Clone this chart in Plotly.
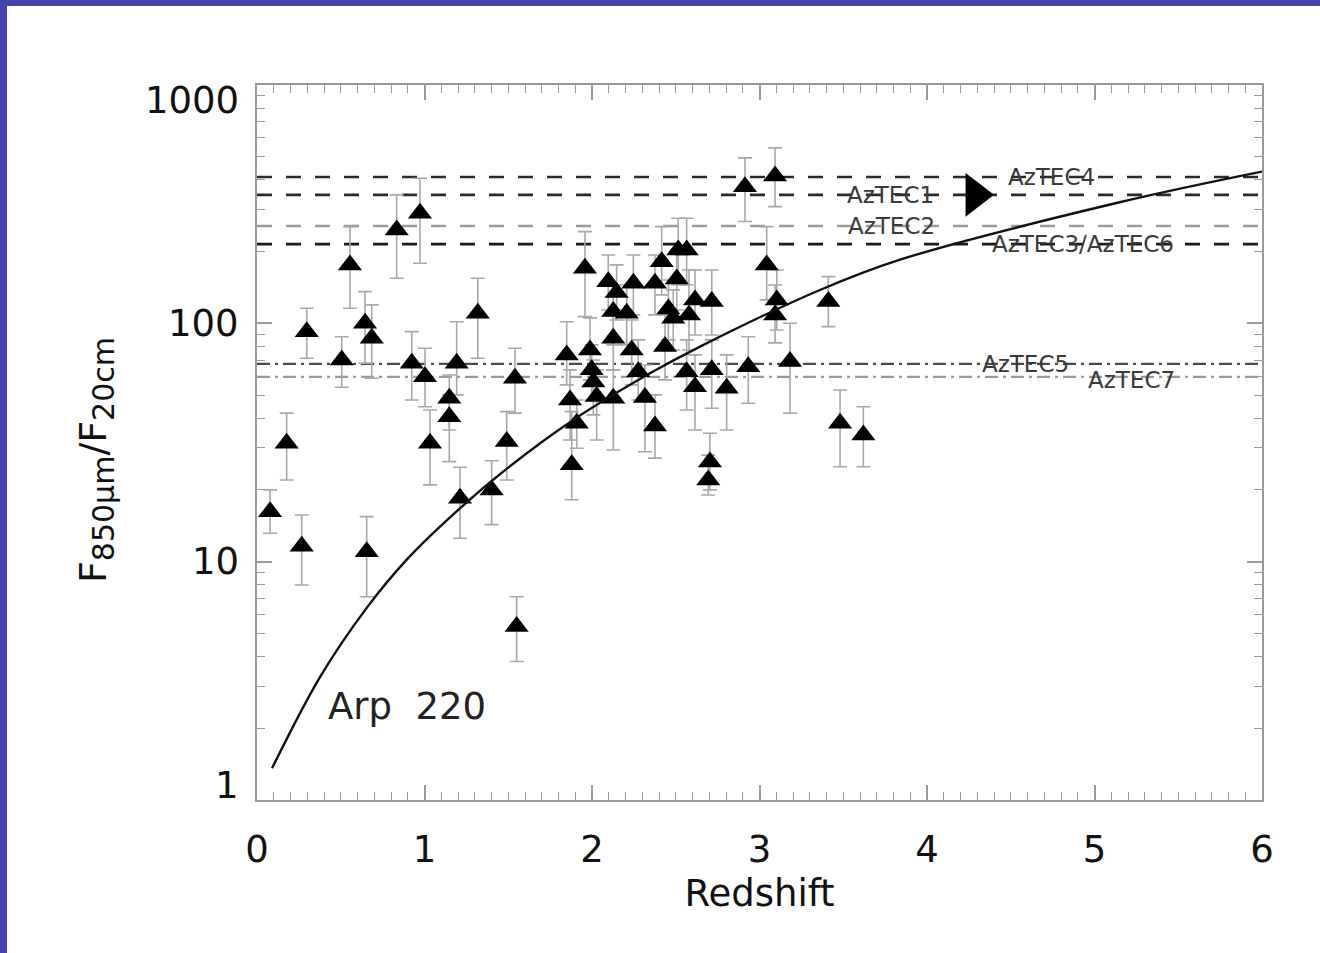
import math
import plotly.graph_objects as go

# ---------------- data ----------------
redshift = [0.078, 0.177, 0.267, 0.297, 0.506, 0.555, 0.645, 0.655, 0.685, 0.834,
            0.924, 0.973, 1.003, 1.033, 1.148, 1.148, 1.192, 1.212, 1.318, 1.401,
            1.491, 1.540, 1.550, 1.849, 1.869, 1.909, 1.879, 1.958, 1.988, 1.998,
            2.008, 2.028, 2.097, 2.147, 2.127, 2.207, 2.247, 2.127, 2.127, 2.237,
            2.276, 2.316, 2.376, 2.376, 2.416, 2.436, 2.456, 2.485, 2.506, 2.515,
            2.565, 2.565, 2.579, 2.615, 2.615, 2.715, 2.715, 2.704, 2.694, 2.804,
            2.913, 2.933, 3.043, 3.093, 3.103, 3.093, 3.182, 3.411, 3.481, 3.620]
ratio = [16.2, 31.4, 11.6, 92.3, 70.2, 175.9, 100.1, 11.0, 86.6, 246.6,
         68.0, 289.7, 59.7, 31.4, 48.5, 40.6, 68.0, 18.45, 110.3, 20.0,
         31.9, 58.8, 5.34, 73.7, 47.7, 38.1, 25.5, 170.3, 77.3, 63.8,
         56.8, 49.3, 149.6, 134.8, 112.0, 110.3, 147.3, 86.6, 48.5, 77.3,
         62.7, 48.9, 147.3, 37.1, 181.5, 79.9, 114.9, 105.1, 153.6, 203.2,
         203.2, 62.7, 108.5, 125.4, 54.2, 123.4, 63.8, 26.2, 22.0, 53.4,
         374.6, 65.8, 175.9, 415.4, 125.4, 108.5, 69.1, 123.4, 38.1, 34.0]
ratio_hi = [20.0, 42.0, 15.7, 115.7, 87.9, 254.6, 135.9, 15.45, 119.5, 345.8,
            92.3, 406.3, 78.6, 43.3, 60.7, 50.1, 101.6, 24.9, 154.6, 26.5,
            42.6, 78.6, 7.13, 101.6, 63.8, 47.7, 42.6, 242.6, 105.4, 81.2,
            70.2, 63.8, 193.6, 175.9, 144.9, 144.9, 193.6, 111.6, 63.8, 103.3,
            85.2, 66.9, 193.6, 50.1, 254.6, 108.5, 152.1, 138.1, 203.2, 276.1,
            276.1, 85.2, 167.5, 167.5, 73.7, 167.5, 85.2, 34.6, 28.0, 73.7,
            494.5, 87.9, 254.6, 544.6, 167.5, 144.9, 100.1, 157.1, 52.5, 44.7]
ratio_lo = [13.16, 22.0, 7.98, 71.4, 53.9, 115.7, 68.0, 7.13, 58.8, 154.6,
            47.7, 178.8, 44.7, 21.0, 35.7, 26.3, 50.1, 12.54, 71.4, 14.3,
            22.0, 42.0, 3.81, 55.2, 32.4, 29.9, 18.2, 106.7, 57.9, 47.7,
            41.3, 32.4, 113.8, 103.3, 81.2, 81.2, 108.5, 63.8, 29.4, 55.2,
            47.7, 28.9, 108.5, 27.2, 131.6, 57.9, 85.2, 77.3, 113.8, 144.9,
            144.9, 43.3, 77.3, 89.4, 35.7, 89.4, 44.0, 20.0, 19.05, 35.7,
            267.3, 46.2, 125.4, 308.9, 93.8, 82.8, 42.0, 96.9, 25.0, 25.0]

# Arp 220 track
arp_z = [0.09, 0.376, 0.655, 0.894, 1.172, 1.49, 1.888, 2.346, 2.645,
         3.361, 3.839, 5.15, 6.0]
arp_ratio = [1.36, 3.28, 6.4, 10.2, 15.8, 24.5, 39.3, 61.7, 79.9,
             138, 185, 322, 433]

# AzTEC sources (horizontal levels)
aztec_names = ["AzTEC4", "AzTEC1", "AzTEC2", "AzTEC3/AzTEC6", "AzTEC5", "AzTEC7"]
aztec_levels = [411, 346, 256, 215, 67.6, 59.6]
aztec_label_z = [4.746, 3.785, 3.79, 4.93, 4.59, 5.22]
aztec_label_y = [411, 346, 256, 215, 67.6, 58.0]
aztec1_zmin = 4.287

x_ticks = [0, 1, 2, 3, 4, 5, 6]
y_ticks = [1, 10, 100, 1000]
y_ticktext = ["1", "10", "100", "1000"]

# ---------------- styles ----------------
line_styles = [
    dict(color="#2a2a2a", dash="15px,14px", width=2.6),
    dict(color="#2a2a2a", dash="15px,14px", width=2.6),
    dict(color="#9a9a9a", dash="15px,14px", width=2.6),
    dict(color="#1a1a1a", dash="15px,14px", width=2.6),
    dict(color="#4a4a4a", dash="13px,5px,3px,5px", width=2.4),
    dict(color="#9a9a9a", dash="13px,5px,3px,5px", width=2.4),
]

FONT = "DejaVu Sans, Verdana, sans-serif"

fig = go.Figure()

for name, lev, st in zip(aztec_names, aztec_levels, line_styles):
    fig.add_trace(go.Scatter(x=[0, 6], y=[lev, lev], mode="lines", line=st,
                             hoverinfo="skip", showlegend=False))

err_plus = [h - v for h, v in zip(ratio_hi, ratio)]
err_minus = [v - l for v, l in zip(ratio, ratio_lo)]

fig.add_trace(go.Scatter(
    x=redshift, y=ratio, mode="markers",
    marker=dict(symbol="triangle-up", size=21, color="black", line=dict(width=0)),
    error_y=dict(type="data", array=err_plus, arrayminus=err_minus,
                 color="#a8a8a8", thickness=1.6, width=7),
    showlegend=False))

fig.add_trace(go.Scatter(
    x=[aztec1_zmin], y=[aztec_levels[1]], mode="markers",
    marker=dict(symbol="triangle-right", size=38, color="black"),
    showlegend=False))

fig.add_trace(go.Scatter(x=arp_z, y=arp_ratio, mode="lines",
                         line=dict(color="#111", width=2.4, shape="spline", smoothing=1.0),
                         showlegend=False))

for name, zx, yy in zip(aztec_names, aztec_label_z, aztec_label_y):
    fig.add_annotation(x=zx, y=math.log10(yy), text=name, showarrow=False,
                       font=dict(family=FONT, size=23, color="#3a3a3a"))

fig.add_annotation(x=0.896, y=math.log10(2.46), text="Arp\u00a0\u00a0220", showarrow=False,
                   font=dict(family=FONT, size=37, color="#222"))

# geometry helpers (pixel -> paper)
W, H = 1320, 953
L, R, T, B = 257, 58, 85, 153
pw, ph = W - L - R, H - T - B
def px(xp):
    return (xp - L) / pw
def py(yp):
    return (H - B - yp) / ph

# y tick labels (end labels nudged inward as in the original)
label_shift = {1: 15, 10: 0, 100: 0, 1000: -15}
for v, t in zip(y_ticks, y_ticktext):
    fig.add_annotation(xref="paper", x=px(241), yref="y", y=math.log10(v), text=t,
                       showarrow=False, xanchor="right", yanchor="middle",
                       yshift=label_shift[v],
                       font=dict(family=FONT, size=37, color="#111"))

# y axis title
fig.add_annotation(xref="paper", x=px(96), yref="paper", y=py(460),
                   text="F<sub><span style='font-size:30px'>850\u03bcm</span></sub>/F<sub><span style='font-size:30px'>20cm</span></sub>",
                   textangle=-90, showarrow=False, xanchor="center", yanchor="middle",
                   font=dict(family=FONT, size=38, color="#111"))

# blue frame (top and left edges of the slide)
fig.add_shape(type="rect", xref="paper", yref="paper", x0=px(0), x1=px(W), y0=py(6), y1=py(0),
              fillcolor="#4444aa", line=dict(width=0), layer="above")
fig.add_shape(type="rect", xref="paper", yref="paper", x0=px(0), x1=px(7), y0=py(H), y1=py(0),
              fillcolor="#4444aa", line=dict(width=0), layer="above")

axis_common = dict(showline=True, linecolor="#9a9a9a", linewidth=2, mirror="ticks",
                   ticks="inside", tickcolor="#9a9a9a", tickwidth=1.5, ticklen=15,
                   showgrid=False, zeroline=False,
                   tickfont=dict(family=FONT, size=37, color="#111"))

fig.update_layout(
    width=W, height=H,
    margin=dict(l=L, r=R, t=T, b=B, autoexpand=False),
    paper_bgcolor="white", plot_bgcolor="white",
    xaxis=dict(range=[0, 6], tickvals=x_ticks, ticklabelstandoff=16,
               minor=dict(dtick=0.1, ticks="inside", ticklen=8, tickcolor="#9a9a9a", tickwidth=1.2),
               title=dict(text="Redshift", font=dict(family=FONT, size=37, color="#111"), standoff=10),
               **axis_common),
    yaxis=dict(type="log", range=[0, 3], tickvals=y_ticks, showticklabels=False,
               minor=dict(dtick="D1", ticks="inside", ticklen=8, tickcolor="#9a9a9a", tickwidth=1.2),
               **axis_common),
)

fig.write_html("out.html", config={"displayModeBar": False},
               post_script="document.body.style.margin='0px';")
